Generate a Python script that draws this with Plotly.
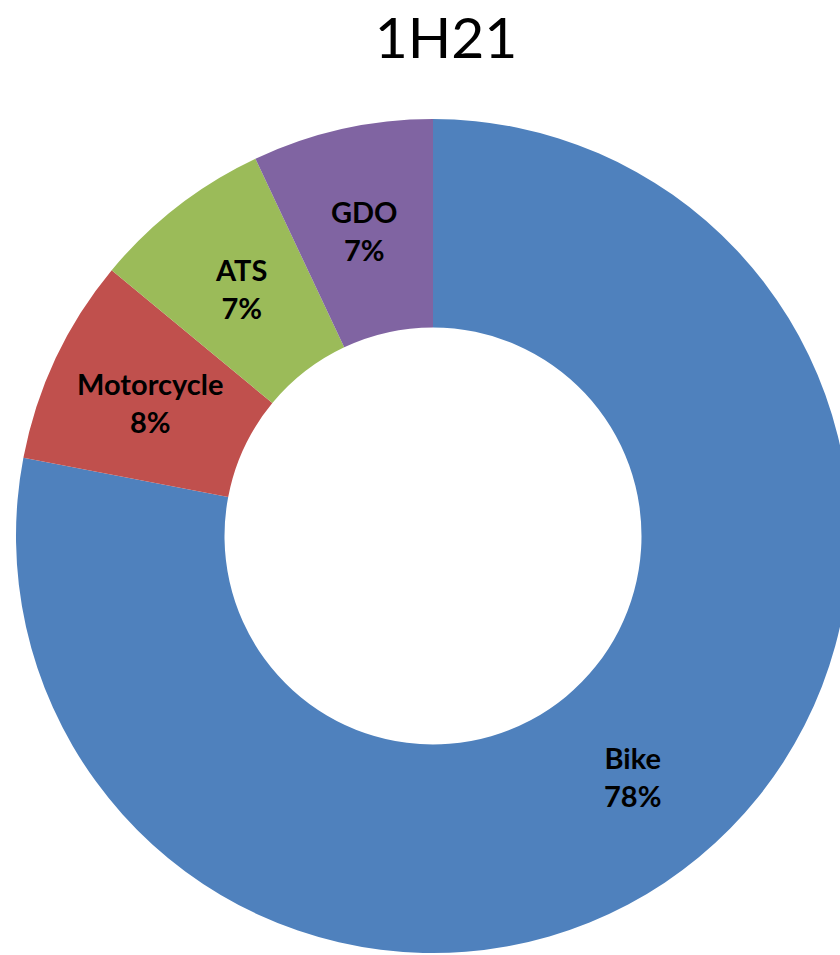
import math
import plotly.graph_objects as go

labels = ["Bike", "Motorcycle", "ATS", "GDO"]
values = [78, 8, 7, 7]
colors = ["#4F81BD", "#C0504D", "#9BBB59", "#8064A2"]
title_text = "1H21"

W, H = 860, 955
HOLE = 0.5
dom_x = [15 / W, 851 / W]
dom_y = [1 - 953 / H, 1 - 119 / H]

fig = go.Figure(go.Pie(
    labels=labels,
    values=values,
    hole=HOLE,
    sort=False,
    direction="clockwise",
    rotation=0,
    marker=dict(colors=colors, line=dict(width=0)),
    textinfo="none",
    showlegend=False,
    domain=dict(x=dom_x, y=dom_y),
    hoverinfo="skip",
))

# data labels at the middle of each ring segment (mid angle, mid radius)
cx = (dom_x[0] + dom_x[1]) / 2 * W
cy = (1 - (dom_y[0] + dom_y[1]) / 2) * H
R = min((dom_x[1] - dom_x[0]) * W, (dom_y[1] - dom_y[0]) * H) / 2
r_mid = R * (1 + HOLE) / 2
total = sum(values)
cum = 0.0
annotations = []
for lab, v in zip(labels, values):
    mid = (cum + v / 2) / total * 2 * math.pi
    cum += v
    px = cx + r_mid * math.sin(mid)
    py = cy - r_mid * math.cos(mid)
    annotations.append(dict(
        x=px / W, y=1 - py / H, xref="paper", yref="paper",
        xanchor="center", yanchor="middle", showarrow=False,
        text=f"<b>{lab}<br>{round(v / total * 100)}%</b>",
        font=dict(family="Lato", size=29, color="#000000"),
    ))

fig.update_layout(
    width=W, height=H,
    margin=dict(l=0, r=0, t=0, b=0),
    paper_bgcolor="white",
    plot_bgcolor="white",
    annotations=annotations,
    title=dict(text=title_text, x=446 / W, xanchor="center", y=1 - 38 / H, yanchor="middle",
               font=dict(family="Lato", size=57, color="#000000")),
)

fig.write_html(
    "out.html",
    config={"displayModeBar": False},
    post_script="document.body.style.margin='0';document.body.style.overflow='hidden';"
                "document.documentElement.style.overflow='hidden';",
)
